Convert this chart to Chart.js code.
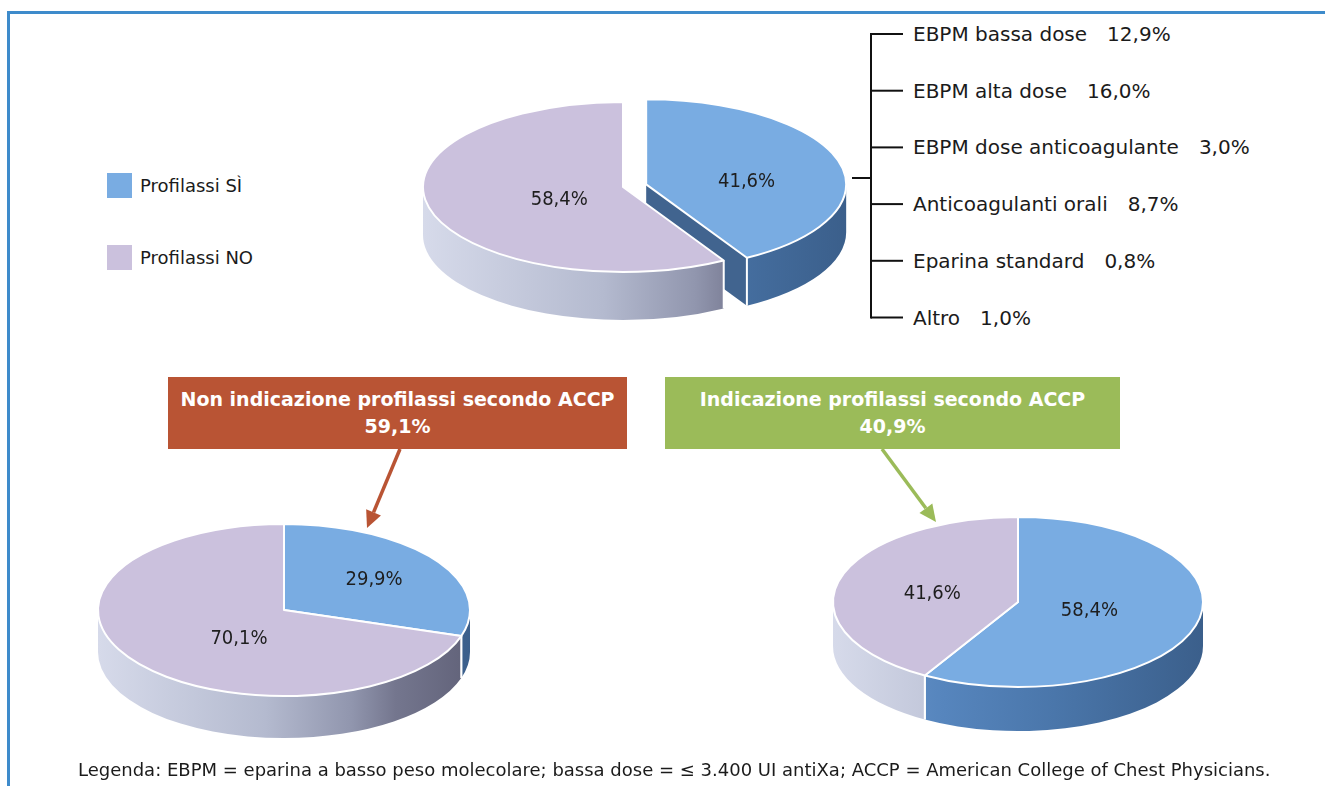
<!DOCTYPE html>
<html lang="it">
<head>
<meta charset="utf-8">
<title>Profilassi</title>
<script src="https://cdn.jsdelivr.net/npm/chart.js@4.4.1/dist/chart.umd.min.js"></script>
<style>
  html, body { margin: 0; padding: 0; background: #fff; }
  body { position: relative; width: 1325px; height: 786px; overflow: hidden;
         font-family: "DejaVu Sans", sans-serif; color: #1b1b1b; }
  .cornice { position: absolute; left: 7px; top: 11px; width: 1340px; height: 800px;
             border-left: 3px solid #3e8bcb; border-top: 3px solid #3e8bcb; }
  canvas { position: absolute; }
  #tortaTotale { left: 373px; top: 7px; }
  #tortaNo { left: 74px; top: 460px; }
  #tortaSi { left: 808px; top: 452px; }
  svg { position: absolute; left: 0; top: 0; }
  .leg { position: absolute; left: 107px; font-size: 18px; line-height: 25px; white-space: nowrap; }
  .leg i { display: inline-block; width: 25px; height: 25px; vertical-align: top; margin-right: 8px; }
  .ramo { position: absolute; left: 913px; font-size: 20px; line-height: 24px; white-space: nowrap; }
  .ramo .pct { margin-left: 20px; }
  .box { position: absolute; top: 377px; height: 72px; color: #fff; font-weight: bold; font-size: 19px;
         line-height: 27px; text-align: center; display: flex; flex-direction: column; justify-content: center; }
  #nota { position: absolute; left: 78px; top: 759px; font-size: 18px; white-space: nowrap; }
</style>
</head>
<body>
<div class="cornice"></div>

<div class="leg" id="legSi" style="top:173px"></div>
<div class="leg" id="legNo" style="top:245px"></div>
<div id="albero"></div>
<div class="box" id="boxNo" style="left:168px;width:459px;background:#b95434"></div>
<div class="box" id="boxSi" style="left:665px;width:455px;background:#9bbb59"></div>

<svg id="linee" width="1325" height="786"></svg>

<canvas id="tortaTotale" width="500" height="360"></canvas>
<canvas id="tortaNo" width="420" height="300"></canvas>
<canvas id="tortaSi" width="420" height="300"></canvas>

<div id="nota">Legenda: EBPM = eparina a basso peso molecolare; bassa dose = ≤ 3.400 UI antiXa; ACCP = American College of Chest Physicians.</div>

<script>
// ---- dati ----
const sliceLabels = ['Profilassi SÌ', 'Profilassi NO'];
const totaleValues = [41.6, 58.4];
const nonIndicazioneValues = [29.9, 70.1];
const indicazioneValues = [58.4, 41.6];

const sottotipiLabels = ['EBPM bassa dose', 'EBPM alta dose', 'EBPM dose anticoagulante',
  'Anticoagulanti orali', 'Eparina standard', 'Altro'];
const sottotipiValues = [12.9, 16.0, 3.0, 8.7, 0.8, 1.0];

const gruppiLabels = ['Non indicazione profilassi secondo ACCP', 'Indicazione profilassi secondo ACCP'];
const gruppiValues = [59.1, 40.9];

// ---- colori ----
const BLU = '#79ace2';
const VIOLA = '#cbc1dd';
const FACCIA_BLU = '#41648f';
const PARETE = {
  [BLU]: [[0, '#6a98cd'], [0.3, '#5685bd'], [0.6, '#4a76aa'], [1, '#3b5f8b']],
  [VIOLA]: [[0, '#d6daea'], [0.45, '#b4bacf'], [0.68, '#9196ae'], [0.8, '#74768e'], [1, '#616279']]
};

const fmt = v => v.toFixed(1).replace('.', ',') + '%';

// torta 3D: pareti laterali disegnate a mano, superficie superiore con gli archi di Chart.js schiacciati
const pie3d = {
  id: 'pie3d',
  beforeDatasetsDraw(chart, args, opts) {
    const ctx = chart.ctx;
    const k = opts.tilt, depth = opts.depth;
    const explode = opts.explode || [];
    const arcs = chart.getDatasetMeta(0).data;
    const geo = arcs.map((arc, i) => {
      const mid = (arc.startAngle + arc.endAngle) / 2;
      const e = explode[i] || 0;
      return {
        arc, x: arc.x, y: arc.y, s: arc.startAngle, t: arc.endAngle, r: arc.outerRadius, mid, e,
        X: arc.x + e * Math.cos(mid), Y: arc.y + k * e * Math.sin(mid),
        color: arc.options.backgroundColor
      };
    });

    // facce radiali delle fette staccate
    geo.forEach(g => {
      if (!g.e) return;
      [[g.t, Math.cos(g.t)], [g.s, -Math.cos(g.s)]].forEach(([ang, ny]) => {
        if (ny < 0.02) return;
        const rx = g.X + g.r * Math.cos(ang), ry = g.Y + k * g.r * Math.sin(ang);
        ctx.beginPath();
        ctx.moveTo(g.X, g.Y);
        ctx.lineTo(rx, ry);
        ctx.lineTo(rx, ry + depth);
        ctx.lineTo(g.X, g.Y + depth);
        ctx.closePath();
        ctx.fillStyle = FACCIA_BLU;
        ctx.fill();
        ctx.strokeStyle = '#fff';
        ctx.lineWidth = 1.5;
        ctx.beginPath();
        ctx.moveTo(rx, ry);
        ctx.lineTo(rx, ry + depth);
        ctx.stroke();
      });
    });

    // pareti esterne (solo la parte rivolta verso chi guarda)
    geo.forEach(g => {
      const a = Math.max(g.s, 0), b = Math.min(g.t, Math.PI);
      if (b <= a) return;
      const {X, Y, r} = g;
      ctx.beginPath();
      ctx.ellipse(X, Y, r, r * k, 0, a, b);
      ctx.lineTo(X + r * Math.cos(b), Y + k * r * Math.sin(b) + depth);
      ctx.ellipse(X, Y + depth, r, r * k, 0, b, a, true);
      ctx.closePath();
      const grad = ctx.createLinearGradient(X - r, 0, X + r, 0);
      PARETE[g.color].forEach(([o, c]) => grad.addColorStop(o, c));
      ctx.fillStyle = grad;
      ctx.fill();
      ctx.strokeStyle = '#fff';
      ctx.lineWidth = 2;
      [[a, a > 0], [b, b < Math.PI]].forEach(([ang, seam]) => {
        if (!seam) return;
        const px = X + r * Math.cos(ang), py = Y + k * r * Math.sin(ang);
        ctx.beginPath();
        ctx.moveTo(px, py);
        ctx.lineTo(px, py + depth);
        ctx.stroke();
      });
    });

    // superficie superiore
    geo.forEach(g => {
      ctx.save();
      ctx.translate(g.X, g.Y);
      ctx.scale(1, k);
      ctx.translate(-g.x, -g.y);
      g.arc.draw(ctx);
      ctx.beginPath();
      ctx.moveTo(g.x, g.y);
      ctx.arc(g.x, g.y, g.r, g.s, g.t);
      ctx.closePath();
      ctx.restore();
      ctx.strokeStyle = '#fff';
      ctx.lineWidth = 2;
      ctx.lineJoin = 'round';
      ctx.stroke();
    });

    // etichette percentuali
    const values = chart.data.datasets[0].data;
    ctx.fillStyle = '#1e1e1e';
    ctx.font = '20px "DejaVu Sans Condensed", "DejaVu Sans", sans-serif';
    ctx.textAlign = 'center';
    ctx.textBaseline = 'middle';
    geo.forEach((g, i) => {
      const [f, dy] = opts.labelPos[i];
      ctx.fillText(fmt(values[i]), g.X + f * g.r * Math.cos(g.mid), g.Y + k * f * g.r * Math.sin(g.mid) + dy);
    });
    return false;
  }
};

function makePie(id, values, radius, pieOpts) {
  return new Chart(document.getElementById(id), {
    type: 'pie',
    data: {
      labels: sliceLabels,
      datasets: [{ data: values, backgroundColor: [BLU, VIOLA], borderWidth: 0, clip: false }]
    },
    options: {
      responsive: false,
      animation: false,
      events: [],
      radius: radius,
      layout: { padding: 0 },
      plugins: { legend: { display: false }, tooltip: { enabled: false }, pie3d: pieOpts }
    },
    plugins: [pie3d]
  });
}

makePie('tortaTotale', totaleValues, 200, { tilt: 0.425, depth: 48, explode: [24, 0], labelPos: [[0.52, 9], [0.33, 5]] });
makePie('tortaNo', nonIndicazioneValues, 186, { tilt: 0.463, depth: 42, labelPos: [[0.6, 0], [0.3, 14]] });
makePie('tortaSi', indicazioneValues, 185, { tilt: 0.46, depth: 44, labelPos: [[0.4, 0], [0.48, 2]] });

// ---- legenda ----
document.getElementById('legSi').innerHTML = `<i style="background:${BLU}"></i>${sliceLabels[0]}`;
document.getElementById('legNo').innerHTML = `<i style="background:${VIOLA}"></i>${sliceLabels[1]}`;

// ---- riquadri ACCP ----
document.getElementById('boxNo').innerHTML = `<div>${gruppiLabels[0]}</div><div>${fmt(gruppiValues[0])}</div>`;
document.getElementById('boxSi').innerHTML = `<div>${gruppiLabels[1]}</div><div>${fmt(gruppiValues[1])}</div>`;

// ---- albero dei tipi di profilassi + frecce ----
const svg = document.getElementById('linee');
const NS = 'http://www.w3.org/2000/svg';
function line(x1, y1, x2, y2, color, w) {
  const l = document.createElementNS(NS, 'line');
  l.setAttribute('x1', x1); l.setAttribute('y1', y1);
  l.setAttribute('x2', x2); l.setAttribute('y2', y2);
  l.setAttribute('stroke', color); l.setAttribute('stroke-width', w);
  svg.appendChild(l);
}
function arrow(x1, y1, x2, y2, color) {
  const ang = Math.atan2(y2 - y1, x2 - x1), L = 17, W = 8;
  const bx = x2 - L * Math.cos(ang), by = y2 - L * Math.sin(ang);
  line(x1, y1, bx, by, color, 3.5);
  const p = document.createElementNS(NS, 'polygon');
  const nx = -Math.sin(ang) * W, ny = Math.cos(ang) * W;
  p.setAttribute('points', `${x2},${y2} ${bx + nx},${by + ny} ${bx - nx},${by - ny}`);
  p.setAttribute('fill', color);
  svg.appendChild(p);
}

const albero = document.getElementById('albero');
const rowY = sottotipiLabels.map((_, i) => 34 + i * 56.7);
line(871, rowY[0] - 1, 871, rowY[rowY.length - 1] + 1, '#111', 2);
line(852, 178, 871, 178, '#111', 2);
sottotipiLabels.forEach((lab, i) => {
  line(871, rowY[i], 903, rowY[i], '#111', 2);
  const row = document.createElement('div');
  row.className = 'ramo';
  row.style.top = (rowY[i] - 12) + 'px';
  row.innerHTML = `${lab}<span class="pct">${fmt(sottotipiValues[i])}</span>`;
  albero.appendChild(row);
});

arrow(400, 449, 367, 528, '#b95434');
arrow(882, 449, 936, 522, '#9bbb59');
</script>
</body>
</html>
